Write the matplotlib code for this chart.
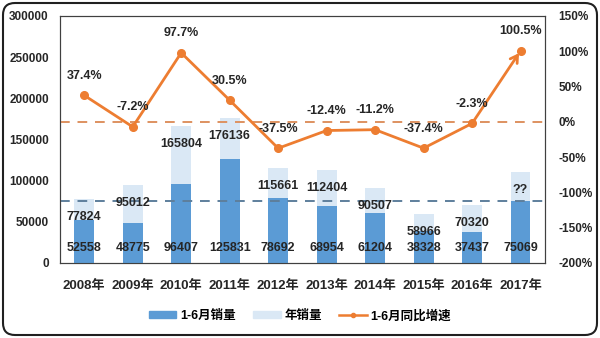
import matplotlib
matplotlib.use('Agg')
import matplotlib.pyplot as plt
import matplotlib.transforms as mtransforms
from matplotlib.patches import FancyBboxPatch, Patch
from matplotlib.lines import Line2D
from matplotlib.ticker import FuncFormatter

plt.rcParams['font.family'] = ['Liberation Sans', 'Noto Sans CJK SC', 'DejaVu Sans']
plt.rcParams['font.weight'] = 'bold'

# sales data (units) and half-year growth (%)
years = ['2008年', '2009年', '2010年', '2011年', '2012年',
         '2013年', '2014年', '2015年', '2016年', '2017年']
h1_sales = [52558, 48775, 96407, 125831, 78692, 68954, 61204, 38328, 37437, 75069]
year_sales = [77824, 95012, 165804, 176136, 115661, 112404, 90507, 58966, 70320, 110000]
year_labels = ['77824', '95012', '165804', '176136', '115661',
               '112404', '90507', '58966', '70320', '??']
h1_growth = [37.4, -7.2, 97.7, 30.5, -37.5, -12.4, -11.2, -37.4, -2.3, 100.5]

dark_blue = '#5B9BD5'
light_blue = '#DAE8F5'
orange = '#ED7D31'
txt = '#262626'

fig = plt.figure(figsize=(6, 3.38), dpi=100)
ax = fig.add_axes([0.1, 0.222, 0.808, 0.731])
ax2 = ax.twinx()

x = list(range(len(years)))
w = 0.41
ax.bar(x, year_sales, width=w, color=light_blue, zorder=2)
ax.bar(x, h1_sales, width=w, color=dark_blue, zorder=3)

# reference line at this year's first-half level
ax.axhline(h1_sales[-1], color='#5E7F9C', lw=1.4, ls=(0, (5, 4)), zorder=4)

for i in x:
    ax.annotate(year_labels[i], (i, year_sales[i]), xytext=(0, -13),
                textcoords='offset points', ha='center', va='center',
                fontsize=9, color=txt, zorder=6)
    ax.text(i, 18000, str(h1_sales[i]), ha='center', va='center',
            fontsize=9, color=txt, zorder=6)

ax.set_xlim(-0.5, 9.5)
ax.set_ylim(0, 300000)
ax.set_yticks(range(0, 300001, 50000))
ax.set_xticks(x)
ax.set_xticklabels(years, fontsize=9.5, color=txt)
ax.tick_params(axis='x', length=0, pad=12)
ax.tick_params(axis='y', length=0, pad=8, labelsize=8.5, labelcolor=txt)

# growth line on the right axis
ax2.set_ylim(-200, 150)
ax2.set_yticks(range(-200, 151, 50))
ax2.yaxis.set_major_formatter(FuncFormatter(lambda v, p: f'{int(v)}%'))
ax2.tick_params(axis='y', length=0, pad=10, labelsize=8.5, labelcolor=txt)
ax2.axhline(0, color='#DE9260', lw=1.4, ls=(0, (5, 4)), zorder=1)
ax2.plot(x[:-1], h1_growth[:-1], color=orange, lw=2, marker='o', ms=5.5, zorder=5)
ax2.plot(x[-1:], h1_growth[-1:], color=orange, marker='o', ms=5.5, ls='none', zorder=5)
ax2.annotate('', xy=(x[-1], h1_growth[-1]), xytext=(x[-2], h1_growth[-2]),
             arrowprops=dict(arrowstyle='->,head_length=0.5,head_width=0.3',
                             color=orange, lw=2, shrinkA=0, shrinkB=2), zorder=5)
for i in x:
    ax2.annotate(f'{h1_growth[i]}%', (i, h1_growth[i]), xytext=(0, 14),
                 textcoords='offset points', ha='center', va='center',
                 fontsize=9, color=txt, zorder=6)

for a in (ax, ax2):
    for s in a.spines.values():
        s.set_color('#404040')
        s.set_linewidth(0.8)

handles = [Patch(color=dark_blue), Patch(color=light_blue),
           Line2D([], [], color=orange, lw=1.8, marker='o', ms=3)]
fig.legend(handles, ['1-6月销量', '年销量', '1-6月同比增速'], loc='center',
           bbox_to_anchor=(0.5, 1 - 316 / 338), ncol=3, frameon=False,
           fontsize=9, handlelength=2.2, handleheight=0.5, handletextpad=0.3,
           columnspacing=1.4)

# rounded outer frame, in pixels
frame = FancyBboxPatch((3, 3), 594, 332, boxstyle='round,pad=0,rounding_size=12',
                       transform=mtransforms.IdentityTransform(),
                       fill=False, ec='#202020', lw=1.5)
fig.patches.append(frame)

fig.savefig('out.png', dpi=100)
